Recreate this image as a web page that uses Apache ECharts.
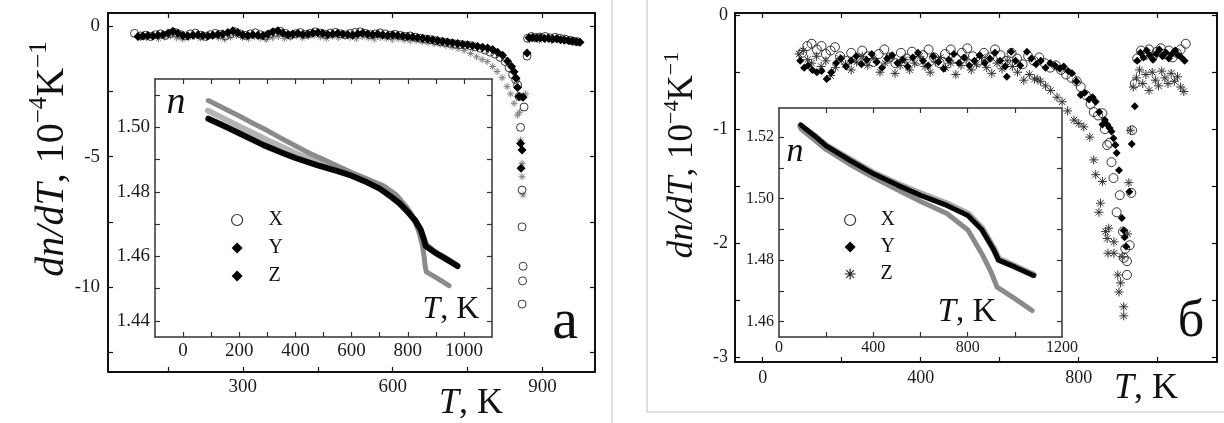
<!DOCTYPE html>
<html><head><meta charset="utf-8">
<script src="https://cdn.jsdelivr.net/npm/echarts@6.0.0/dist/echarts.min.js"></script>
<style>html,body{margin:0;padding:0;background:#fff}#c{width:1224px;height:423px}</style>
</head><body><div id="c"></div>
<script>
// ---------- Panel a, main: dn/dT (10^-4 K^-1) vs T (K) ----------
const aX = [[83,-0.28],[95,-0.38],[105,-0.35],[115,-0.40],[125,-0.33],[135,-0.30],[145,-0.36],[155,-0.28],[165,-0.25],[175,-0.33],[185,-0.38],[195,-0.30],[205,-0.27],[215,-0.35],[225,-0.40],[235,-0.33],[245,-0.28],[255,-0.32],[265,-0.38],[275,-0.30],[285,-0.22],[295,-0.30],[305,-0.36],[315,-0.30],[325,-0.26],[335,-0.33],[345,-0.38],[355,-0.30],[365,-0.24],[375,-0.20],[385,-0.28],[395,-0.35],[405,-0.30],[415,-0.25],[425,-0.32],[435,-0.28],[445,-0.22],[455,-0.27],[465,-0.32],[475,-0.27],[485,-0.24],[495,-0.30],[505,-0.34],[515,-0.28],[525,-0.24],[535,-0.22],[545,-0.28],[555,-0.33],[565,-0.30],[575,-0.26],[585,-0.30],[595,-0.35],[605,-0.32],[615,-0.36],[625,-0.40],[635,-0.38],[645,-0.43],[655,-0.47],[665,-0.50],[675,-0.52],[685,-0.56],[695,-0.60],[705,-0.63],[715,-0.66],[725,-0.69],[735,-0.71],[745,-0.73],[755,-0.75],[765,-0.80],[775,-0.85],[785,-0.92],[795,-1.00],[805,-1.08],[815,-1.20],[825,-1.36],[833,-1.60],[840,-1.86],[846,-2.05],[850,-2.26],[853,-2.70],[856,-3.88],[859,-6.28],[859,-7.69],[861,-9.20],[860,-9.76],[859,-10.65],[863,-3.10],[869,-1.15],[870,-0.47],[878,-0.40],[886,-0.44],[895,-0.42],[905,-0.40],[915,-0.45],[925,-0.43],[935,-0.47],[945,-0.50],[955,-0.55],[962,-0.58],[970,-0.60]];
const aY = [[90,-0.40],[100,-0.38],[110,-0.36],[120,-0.38],[130,-0.35],[140,-0.33],[150,-0.28],[160,-0.20],[170,-0.28],[180,-0.36],[190,-0.38],[200,-0.35],[210,-0.33],[220,-0.36],[230,-0.38],[240,-0.35],[250,-0.32],[260,-0.30],[270,-0.25],[280,-0.18],[290,-0.26],[300,-0.34],[310,-0.36],[320,-0.33],[330,-0.35],[340,-0.37],[350,-0.30],[360,-0.22],[370,-0.18],[380,-0.27],[390,-0.33],[400,-0.30],[410,-0.28],[420,-0.32],[430,-0.30],[440,-0.27],[450,-0.25],[460,-0.28],[470,-0.32],[480,-0.30],[490,-0.28],[500,-0.30],[510,-0.32],[520,-0.35],[530,-0.30],[540,-0.27],[550,-0.30],[560,-0.33],[570,-0.30],[580,-0.34],[590,-0.36],[600,-0.33],[610,-0.36],[620,-0.38],[630,-0.40],[640,-0.42],[650,-0.45],[660,-0.47],[670,-0.50],[680,-0.52],[690,-0.55],[700,-0.58],[710,-0.61],[720,-0.64],[730,-0.67],[740,-0.70],[750,-0.72],[760,-0.75],[770,-0.78],[780,-0.81],[790,-0.84],[800,-0.90],[810,-1.00],[820,-1.12],[830,-1.35],[838,-1.55],[843,-1.75],[847,-2.00],[850,-2.35],[853,-2.70],[856,-4.50],[859,-4.75],[857,-5.45],[861,-2.73],[869,-1.03],[873,-0.45],[880,-0.44],[888,-0.46],[896,-0.45],[904,-0.48],[912,-0.47],[920,-0.50],[928,-0.49],[936,-0.52],[944,-0.53],[952,-0.55],[960,-0.57],[968,-0.60],[975,-0.62]];
const aZ = [[95,-0.42],[107,-0.45],[119,-0.40],[131,-0.48],[143,-0.42],[155,-0.38],[167,-0.45],[179,-0.50],[191,-0.44],[203,-0.40],[215,-0.47],[227,-0.43],[239,-0.38],[251,-0.45],[263,-0.50],[275,-0.42],[287,-0.36],[299,-0.44],[311,-0.48],[323,-0.41],[335,-0.46],[347,-0.52],[359,-0.45],[371,-0.40],[383,-0.47],[395,-0.43],[407,-0.38],[419,-0.45],[431,-0.40],[443,-0.36],[455,-0.42],[467,-0.47],[479,-0.40],[491,-0.44],[503,-0.38],[515,-0.43],[527,-0.48],[539,-0.41],[551,-0.45],[563,-0.50],[575,-0.44],[587,-0.47],[599,-0.52],[611,-0.48],[623,-0.53],[635,-0.57],[647,-0.55],[659,-0.60],[671,-0.63],[683,-0.67],[695,-0.70],[707,-0.74],[719,-0.80],[731,-0.86],[743,-0.93],[756,-1.05],[768,-1.18],[779,-1.28],[789,-1.36],[800,-1.55],[809,-1.74],[819,-1.98],[829,-2.32],[836,-2.60],[843,-2.96],[850,-3.41],[854,-3.30],[856,-4.37],[859,-5.26],[859,-5.77],[861,-6.47],[866,-2.60],[874,-0.52],[884,-0.50],[894,-0.55],[906,-0.50],[918,-0.56],[930,-0.53],[942,-0.58],[954,-0.55],[966,-0.62]];

// ---------- Panel a, inset: n vs T ----------
const naX = [[88,1.5052],[150,1.5025],[200,1.5003],[250,1.4982],[300,1.4960],[350,1.4940],[400,1.4920],[450,1.4902],[500,1.4885],[550,1.4870],[600,1.4856],[650,1.4838],[700,1.4815],[750,1.4782],[800,1.4742],[830,1.4705],[850,1.4672],[862,1.4640],[900,1.4612],[940,1.4592],[975,1.4572]];
const naY = [[90,1.5027],[150,1.5003],[200,1.4982],[287,1.4945],[350,1.4922],[400,1.4905],[477,1.4883],[550,1.4864],[600,1.4850],[644,1.4834],[700,1.4810],[739,1.4786],[770,1.4765],[799,1.4739],[825,1.4713],[846,1.4683],[858,1.4652],[864,1.4632],[900,1.4610],[940,1.4590],[977,1.4570]];
const naZ = [[90,1.5083],[150,1.5057],[200,1.5035],[250,1.5012],[300,1.4990],[350,1.4966],[406,1.4940],[450,1.4920],[500,1.4900],[550,1.4880],[600,1.4860],[650,1.4842],[715,1.4818],[760,1.4790],[799,1.4750],[820,1.4720],[840,1.4675],[852,1.4635],[858,1.4600],[862,1.4570],[866,1.4552],[900,1.4535],[947,1.4509]];

// ---------- Panel b, main ----------
const bX = [[100,-0.33],[113,-0.27],[124,-0.25],[137,-0.30],[149,-0.27],[160,-0.34],[172,-0.31],[183,-0.28],[196,-0.36],[210,-0.40],[224,-0.33],[238,-0.38],[252,-0.31],[266,-0.36],[280,-0.41],[294,-0.34],[308,-0.30],[322,-0.37],[336,-0.42],[350,-0.33],[364,-0.38],[378,-0.32],[392,-0.40],[406,-0.35],[420,-0.30],[434,-0.37],[448,-0.42],[462,-0.34],[476,-0.30],[490,-0.38],[504,-0.33],[518,-0.29],[532,-0.36],[546,-0.41],[560,-0.33],[574,-0.37],[588,-0.30],[602,-0.35],[616,-0.40],[630,-0.33],[644,-0.38],[658,-0.43],[672,-0.36],[686,-0.40],[700,-0.37],[714,-0.42],[728,-0.46],[742,-0.44],[755,-0.48],[768,-0.52],[782,-0.55],[795,-0.58],[805,-0.63],[818,-0.70],[830,-0.78],[838,-0.85],[849,-0.88],[860,-0.86],[866,-1.00],[872,-1.14],[878,-1.12],[883,-1.29],[888,-1.43],[896,-1.73],[904,-1.58],[912,-1.90],[914,-2.13],[918,-2.05],[922,-2.16],[922,-2.28],[929,-2.02],[933,-1.56],[935,-1.01],[942,-0.60],[948,-0.38],[958,-0.31],[968,-0.35],[978,-0.30],[988,-0.36],[998,-0.32],[1008,-0.29],[1018,-0.34],[1028,-0.31],[1038,-0.37],[1048,-0.33],[1058,-0.30],[1071,-0.25]];
const bY = [[95,-0.40],[105,-0.46],[115,-0.44],[126,-0.48],[137,-0.50],[149,-0.49],[162,-0.56],[174,-0.50],[186,-0.42],[198,-0.38],[211,-0.45],[224,-0.40],[237,-0.36],[250,-0.43],[263,-0.39],[276,-0.34],[289,-0.41],[302,-0.46],[315,-0.38],[328,-0.35],[341,-0.42],[354,-0.39],[367,-0.45],[380,-0.37],[393,-0.33],[406,-0.40],[419,-0.44],[432,-0.36],[445,-0.41],[458,-0.47],[471,-0.39],[484,-0.34],[497,-0.42],[510,-0.37],[523,-0.44],[536,-0.40],[549,-0.35],[562,-0.42],[575,-0.38],[588,-0.33],[601,-0.40],[614,-0.45],[618,-0.54],[629,-0.32],[640,-0.40],[652,-0.44],[669,-0.32],[680,-0.38],[692,-0.43],[704,-0.40],[716,-0.46],[728,-0.42],[740,-0.44],[752,-0.47],[762,-0.45],[773,-0.49],[783,-0.51],[794,-0.58],[805,-0.70],[815,-0.68],[826,-0.74],[835,-0.72],[843,-0.76],[852,-0.85],[860,-0.96],[866,-0.92],[872,-0.96],[878,-0.99],[883,-1.02],[888,-1.08],[893,-1.14],[896,-1.21],[902,-1.36],[909,-1.78],[914,-1.89],[916,-1.95],[920,-2.03],[928,-1.55],[934,-1.13],[942,-0.80],[948,-0.40],[956,-0.33],[964,-0.37],[972,-0.31],[980,-0.35],[988,-0.39],[996,-0.34],[1004,-0.30],[1012,-0.36],[1020,-0.33],[1028,-0.38],[1036,-0.34],[1044,-0.31],[1052,-0.35],[1060,-0.37],[1068,-0.40]];
const bZ = [[92,-0.34],[103,-0.31],[114,-0.39],[124,-0.42],[136,-0.36],[148,-0.45],[160,-0.40],[172,-0.53],[184,-0.46],[196,-0.38],[210,-0.43],[224,-0.48],[238,-0.41],[252,-0.36],[266,-0.44],[280,-0.38],[297,-0.50],[310,-0.42],[322,-0.37],[335,-0.51],[348,-0.44],[360,-0.39],[372,-0.48],[385,-0.42],[398,-0.36],[411,-0.45],[424,-0.50],[437,-0.41],[450,-0.37],[463,-0.46],[476,-0.42],[489,-0.52],[502,-0.44],[515,-0.39],[528,-0.48],[541,-0.43],[554,-0.37],[567,-0.46],[580,-0.51],[593,-0.42],[606,-0.47],[619,-0.40],[632,-0.45],[645,-0.50],[661,-0.57],[675,-0.52],[688,-0.56],[695,-0.56],[703,-0.58],[716,-0.62],[729,-0.66],[745,-0.72],[758,-0.76],[772,-0.84],[788,-0.92],[800,-0.95],[813,-0.98],[828,-1.07],[838,-1.27],[843,-1.40],[851,-1.73],[855,-1.65],[860,-1.46],[868,-1.90],[872,-1.96],[874,-2.09],[876,-1.87],[889,-1.99],[889,-2.09],[899,-2.28],[902,-2.43],[906,-2.35],[910,-2.12],[914,-2.56],[914,-2.64],[924,-1.92],[927,-1.47],[931,-1.01],[938,-0.63],[946,-0.55],[954,-0.48],[962,-0.60],[970,-0.52],[978,-0.66],[986,-0.50],[994,-0.57],[1002,-0.62],[1010,-0.49],[1018,-0.55],[1026,-0.60],[1034,-0.51],[1042,-0.58],[1050,-0.54],[1058,-0.63],[1066,-0.67]];

// ---------- Panel b, inset ----------
const nbX = [[92,1.5236],[150,1.5203],[200,1.5172],[300,1.5127],[403,1.5082],[500,1.5048],[603,1.5015],[712,1.4983],[801,1.4950],[860,1.4903],[910,1.4838],[931,1.4803],[1000,1.4780],[1078,1.4752]];
const nbY = [[92,1.5240],[150,1.5205],[200,1.5172],[300,1.5125],[403,1.5080],[500,1.5045],[603,1.5010],[712,1.4978],[801,1.4945],[860,1.4900],[910,1.4835],[931,1.4800],[1000,1.4778],[1080,1.4750]];
const nbZ = [[92,1.5228],[200,1.5160],[300,1.5112],[403,1.5068],[500,1.5030],[603,1.4990],[712,1.4952],[801,1.4898],[860,1.4821],[900,1.4760],[925,1.4712],[1000,1.4675],[1073,1.4636]];

// ---------- Axis ticks / labels ----------
const aMainXTicks = [150,300,450,600,750,900];
const aMainXLabels = [300,600,900];
const aMainYTicks = [-12.5,-10,-7.5,-5,-2.5,0];
const aMainYLabels = [-10,-5,0];
const aInXTicks = [0,100,200,300,400,500,600,700,800,900,1000];
const aInXLabels = [0,200,400,600,800,1000];
const aInYTicks = [1.44,1.45,1.46,1.47,1.48,1.49,1.50,1.51];
const aInYLabels = [1.44,1.46,1.48,1.50];
const bMainXTicks = [0,200,400,600,800,1000];
const bMainXLabels = [0,400,800];
const bMainYTicks = [-3,-2.5,-2,-1.5,-1,-0.5,0];
const bMainYLabels = [-3,-2,-1,0];
const bInXTicks = [200,400,600,800,1000];
const bInXLabels = [0,400,800,1200];
const bInYTicks = [1.46,1.47,1.48,1.49,1.50,1.51,1.52];
const bInYLabels = [1.46,1.48,1.50,1.52];

const FONT = "'Liberation Serif','Times New Roman',serif";
const STAR = 'path://M0,-10L0,10M-10,0L10,0M-7.07,-7.07L7.07,7.07M-7.07,7.07L7.07,-7.07';

function ax(dim, grid, min, max, ticks, labels, pos, o) {
  const show = pos === 'bottom' || pos === 'left';
  return {
    type: 'value', gridIndex: grid, min: min, max: max, position: pos, z: o.z,
    axisLine: {show: true, onZero: false, lineStyle: {color: o.lc, width: o.lw}},
    axisTick: {show: true, inside: true, length: o.tl, customValues: ticks, lineStyle: {color: o.lc, width: 1.2}},
    axisLabel: {show: show, customValues: labels, margin: dim === 'x' ? o.mx : o.my,
      fontFamily: FONT, fontSize: o.fs, color: '#1a1a1a',
      formatter: o.fmt || (v => String(v))},
    splitLine: {show: false}
  };
}
const nfmt = v => (v > 1 && v < 2 ? v.toFixed(2) : String(v));
const mainA = {z: 1, lc: '#111', lw: 2, tl: 5, fs: 19, mx: 6, my: 8};
const inA = {z: 6, lc: '#333', lw: 1.5, tl: 5, fs: 19, mx: 5, my: 5, fmt: nfmt};
const mainB = {z: 1, lc: '#111', lw: 2, tl: 5, fs: 18, mx: 7, my: 7};
const inB = {z: 6, lc: '#333', lw: 1.5, tl: 5, fs: 16, mx: 3, my: 5, fmt: nfmt};

const xAxis = [
  ax('x', 0, 30, 1005, aMainXTicks, aMainXLabels, 'bottom', mainA),
  ax('x', 0, 30, 1005, aMainXTicks, aMainXLabels, 'top', mainA),
  ax('x', 1, -100, 1100, aInXTicks, aInXLabels, 'bottom', inA),
  ax('x', 1, -100, 1100, aInXTicks, aInXLabels, 'top', inA),
  ax('x', 2, -70, 1150, bMainXTicks, bMainXLabels, 'bottom', mainB),
  ax('x', 2, -70, 1150, bMainXTicks, bMainXLabels, 'top', mainB),
  ax('x', 3, 0, 1200, bInXTicks, bInXLabels, 'bottom', inB),
  ax('x', 3, 0, 1200, bInXTicks, bInXLabels, 'top', inB)
];
const yAxis = [
  ax('y', 0, -13.25, 0.5, aMainYTicks, aMainYLabels, 'left', mainA),
  ax('y', 0, -13.25, 0.5, aMainYTicks, aMainYLabels, 'right', mainA),
  ax('y', 1, 1.435, 1.515, aInYTicks, aInYLabels, 'left', inA),
  ax('y', 1, 1.435, 1.515, aInYTicks, aInYLabels, 'right', inA),
  ax('y', 2, -3.045, 0.02, bMainYTicks, bMainYLabels, 'left', mainB),
  ax('y', 2, -3.045, 0.02, bMainYTicks, bMainYLabels, 'right', mainB),
  ax('y', 3, 1.455, 1.5295, bInYTicks, bInYLabels, 'left', inB),
  ax('y', 3, 1.455, 1.5295, bInYTicks, bInYLabels, 'right', inB)
];

function sc(name, data, xi, yi, symbol, size, fill, stroke, bw) {
  return {type: 'scatter', name: name, data: data, xAxisIndex: xi, yAxisIndex: yi,
    symbol: symbol, symbolSize: size, z: 2, silent: true,
    itemStyle: {color: fill, borderColor: stroke, borderWidth: bw, opacity: 1}};
}
function ln(name, data, xi, yi, color, width, z) {
  return {type: 'line', name: name, data: data, xAxisIndex: xi, yAxisIndex: yi,
    showSymbol: false, z: z, silent: true, smooth: false,
    lineStyle: {color: color, width: width, cap: 'round', join: 'round'}};
}

const series = [
  sc('Z', aZ, 0, 0, STAR, 7, 'rgba(0,0,0,0)', '#808080', 1),
  sc('X', aX, 0, 0, 'circle', 8, 'rgba(0,0,0,0)', '#3a3a3a', 1),
  sc('Y', aY, 0, 0, 'diamond', 9, '#000', '#000', 0),
  ln('naX', naX, 2, 2, '#b4b4b4', 6, 6),
  ln('naZ', naZ, 2, 2, '#8a8a8a', 5, 7),
  ln('naY', naY, 2, 2, '#050505', 6, 8),
  sc('bZ', bZ, 4, 4, STAR, 9, 'rgba(0,0,0,0)', '#333', 1),
  sc('bX', bX, 4, 4, 'circle', 9, 'rgba(0,0,0,0)', '#333', 1),
  sc('bY', bY, 4, 4, 'diamond', 8, '#000', '#000', 0),
  ln('nbX', nbX, 6, 6, '#a8a8a8', 7, 6),
  ln('nbZ', nbZ, 6, 6, '#8a8a8a', 5, 7),
  ln('nbY', nbY, 6, 6, '#050505', 5, 8)
];

const legText = {fontFamily: FONT, fontSize: 20, color: '#111', lineHeight: 20};
const legend = [
  {show: true, orient: 'vertical', left: 231, top: 210, padding: 0, itemWidth: 11, itemHeight: 11, itemGap: 8, z: 20,
   selectedMode: false, symbolKeepAspect: true, textStyle: Object.assign({padding: [0, 0, 0, 21]}, legText),
   data: [
     {name: 'X', icon: 'circle', itemStyle: {color: '#fff', borderColor: '#333', borderWidth: 1.2}},
     {name: 'Y', icon: 'diamond', itemStyle: {color: '#000', borderWidth: 0}},
     {name: 'Z', icon: 'diamond', itemStyle: {color: '#000', borderColor: '#000', borderWidth: 0}}
   ]},
  {show: true, orient: 'vertical', left: 844, top: 210, padding: 0, itemWidth: 11, itemHeight: 11, itemGap: 7, z: 20,
   selectedMode: false, symbolKeepAspect: true, textStyle: Object.assign({padding: [0, 0, 0, 20]}, legText),
   formatter: n => n.slice(1),
   data: [
     {name: 'bX', icon: 'circle', itemStyle: {color: '#fff', borderColor: '#333', borderWidth: 1.2}},
     {name: 'bY', icon: 'diamond', itemStyle: {color: '#000', borderWidth: 0}},
     {name: 'bZ', icon: STAR, itemStyle: {color: 'rgba(0,0,0,0)', borderColor: '#222', borderWidth: 1.2}}
   ]}
];

function rt(text, x, y, size, rot) {
  return {type: 'text', x: x, y: y, rotation: rot || 0, z: 50, silent: true,
    style: {text: text, align: 'center', verticalAlign: 'middle', fill: '#111',
      fontFamily: FONT, fontSize: size,
      rich: {
        i: {fontFamily: FONT, fontStyle: 'italic', fontSize: size, fill: '#111', lineHeight: size * 1.25},
        r: {fontFamily: FONT, fontSize: size, fill: '#111', lineHeight: size * 1.25},
        s: {fontFamily: FONT, fontSize: Math.round(size * 0.62), fill: '#111', verticalAlign: 'top', lineHeight: Math.round(size * 0.6)}
      }}};
}

const graphic = [
  {type: 'line', shape: {x1: 612, y1: 0, x2: 612, y2: 423}, style: {stroke: '#d4d4d4', lineWidth: 1.5}, z: 0, silent: true},
  {type: 'line', shape: {x1: 647, y1: 0, x2: 647, y2: 412}, style: {stroke: '#d4d4d4', lineWidth: 1.5}, z: 0, silent: true},
  {type: 'line', shape: {x1: 647, y1: 412, x2: 1224, y2: 412}, style: {stroke: '#d4d4d4', lineWidth: 1.5}, z: 0, silent: true},
  rt('{i|dn/dT}{r|, 10}{s|−4}{r|K}{s|−1}', 52, 159, 40, Math.PI / 2),
  rt('{i|dn/dT}{r|, 10}{s|−4}{r|K}{s|−1}', 683, 155, 35, Math.PI / 2),
  rt('{i|T}{r|, K}', 471, 404, 36),
  rt('{i|T}{r|, K}', 1146, 389, 36),
  rt('{i|T}{r|, K}', 451, 310, 32),
  rt('{i|T}{r|, K}', 967, 312, 33),
  rt('{i|n}', 176, 103, 38),
  rt('{i|n}', 795, 152, 34),
  rt('{r|a}', 565, 323, 58),
  rt('{r|б}', 1191, 322, 52)
];

const option = {
  animation: false,
  backgroundColor: '#fff',
  grid: [
    {left: 108, top: 13, width: 487, height: 359, containLabel: false, z: 0},
    {left: 155, top: 79, width: 337, height: 258, show: true, backgroundColor: '#fff', borderWidth: 0, z: 5},
    {left: 735, top: 13, width: 482, height: 349, z: 0},
    {left: 779, top: 108, width: 283, height: 229, show: true, backgroundColor: '#fff', borderWidth: 0, z: 5}
  ],
  xAxis: xAxis,
  yAxis: yAxis,
  legend: legend,
  series: series,
  graphic: graphic
};
const chart = echarts.init(document.getElementById('c'), null, {renderer: 'canvas'});
chart.setOption(option);
</script></body></html>
